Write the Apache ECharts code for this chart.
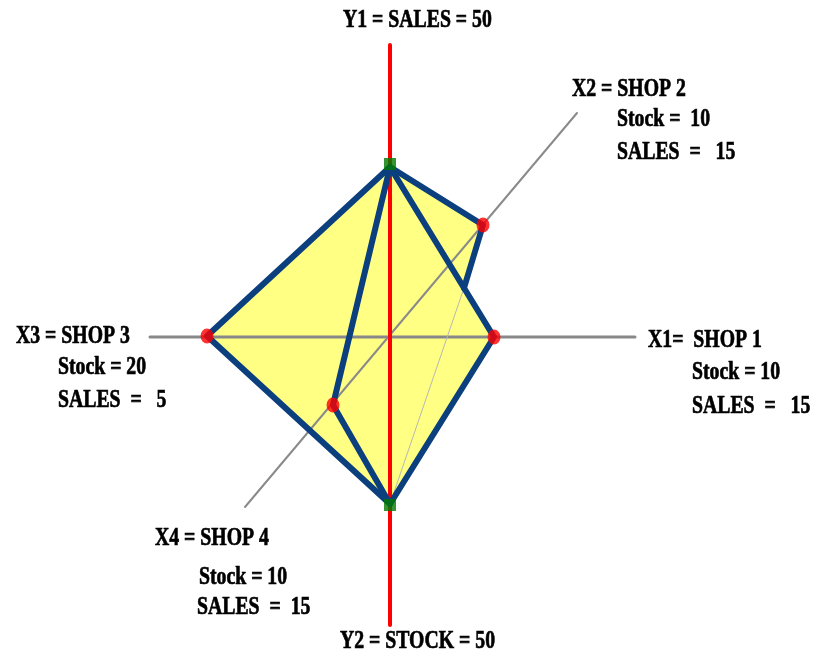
<!DOCTYPE html>
<html>
<head>
<meta charset="utf-8">
<script src="https://cdn.jsdelivr.net/npm/echarts@6/dist/echarts.min.js"></script>
<style>
  html, body { margin: 0; padding: 0; background: #fff; }
  #chart { width: 823px; height: 654px; }
</style>
</head>
<body>
<div id="chart"></div>
<script>
// shop figures from the labels
const shops = ["SHOP 1", "SHOP 2", "SHOP 3", "SHOP 4"];
const stock = [10, 10, 20, 10];
const sales = [15, 15, 5, 15];
const totalSales = 50;
const totalStock = 50;

// diagram points (origin at axis crossing, y up)
const topPt = [0, 170];
const bottomPt = [0, -167];
const shopPts = [[104, 0], [93, 112], [-183, 1], [-57, -68]];
const joint = [74, 49];

// axis lines
const yAxisLine = [[0, 292], [0, -288]];
const xAxisLine = [[-240, 0], [245, 0]];
const diagLine = [[-145, -170], [187, 224]];

const [p1, p2, p3, p4] = shopPts;
const hull = [topPt, p2, joint, p1, bottomPt, p3];
const edges = [
  [topPt, p2, joint],
  [topPt, p1, bottomPt, p3, topPt],
  [topPt, p4, bottomPt]
];
const thinEdge = [bottomPt, joint];

const chart = echarts.init(document.getElementById("chart"));

const FONT = 'bold 26px "Liberation Serif", "Times New Roman", serif';
function label(text, x, y) {
  return {
    type: "text",
    x: x,
    y: y,
    scaleX: 0.76,
    z: 100,
    style: {
      text: text,
      x: 0,
      y: 0,
      font: FONT,
      fill: "#000",
      stroke: "#000",
      lineWidth: 0.7,
      textAlign: "left",
      textVerticalAlign: "middle"
    }
  };
}

const graphic = [
  label("Y1 = SALES = " + totalSales, 343, 20),
  label("X2 = " + shops[1], 572, 89),
  label("Stock =  " + stock[1], 617, 119),
  label("SALES  =   " + sales[1], 617, 152),
  label("X3 = " + shops[2], 16, 336),
  label("Stock = " + stock[2], 58, 367),
  label("SALES  =   " + sales[2], 58, 400),
  label("X1=  " + shops[0], 648, 340),
  label("Stock = " + stock[0], 692, 372),
  label("SALES  =   " + sales[0], 692, 406),
  label("X4 = " + shops[3], 155, 538),
  label("Stock = " + stock[3], 199, 577),
  label("SALES  =  " + sales[3], 197, 607),
  label("Y2 = STOCK = " + totalStock, 340, 641)
];

function lineSeries(coordsList, color, width, z) {
  return {
    type: "lines",
    coordinateSystem: "cartesian2d",
    polyline: true,
    silent: true,
    z: z,
    lineStyle: { color: color, width: width, opacity: 1, cap: "round", join: "round" },
    data: coordsList.map(c => ({ coords: c }))
  };
}

chart.setOption({
  animation: false,
  grid: { left: 0, right: 0, top: 0, bottom: 0 },
  xAxis: { type: "value", min: -390, max: 433, show: false },
  yAxis: { type: "value", min: -317, max: 337, show: false },
  graphic: graphic,
  series: [
    {
      type: "custom",
      z: 1,
      silent: true,
      data: [0],
      renderItem: function (params, api) {
        return {
          type: "polygon",
          shape: { points: hull.map(p => api.coord(p)) },
          style: { fill: "#ffff84" }
        };
      }
    },
    lineSeries([xAxisLine], "#888888", 3, 2),
    lineSeries([diagLine], "#8a8a8a", 2, 3),
    lineSeries([thinEdge], "#b8b8b8", 1, 3),
    lineSeries([yAxisLine], "#ff0000", 4, 4),
    lineSeries(edges, "#0b3f7d", 6, 5),
    {
      type: "scatter",
      z: 6,
      silent: true,
      symbol: "circle",
      symbolSize: [13, 15],
      itemStyle: { color: "#ff0000" },
      data: shopPts
    },
    {
      type: "scatter",
      z: 6,
      silent: true,
      symbol: "rect",
      symbolSize: 12,
      itemStyle: { color: "#007a00" },
      data: [[topPt[0], topPt[1] + 3], [bottomPt[0], bottomPt[1] - 1]]
    }
  ]
});
</script>
</body>
</html>
